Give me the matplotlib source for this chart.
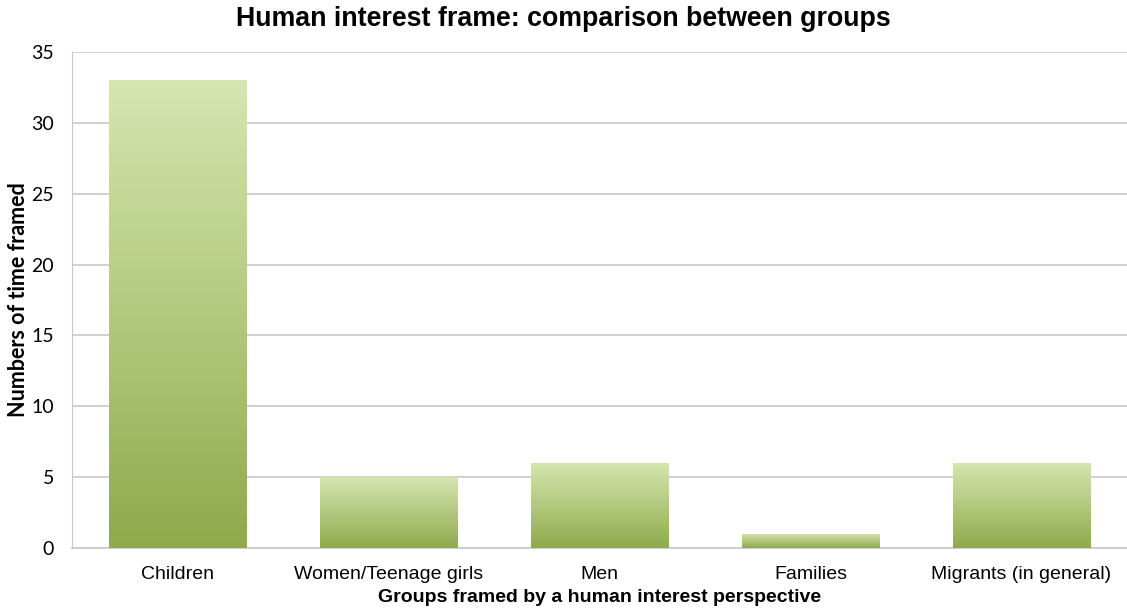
import numpy as np
import matplotlib.pyplot as plt
from matplotlib.colors import LinearSegmentedColormap

# Groups and counts
groups = ["Children", "Women/Teenage girls", "Men", "Families", "Migrants (in general)"]
counts = [33, 5, 6, 1, 6]
y_ticks = [0, 5, 10, 15, 20, 25, 30, 35]

# green gradient, dark at the bottom, light at the top
green = LinearSegmentedColormap.from_list("green", ["#8eaa4a", "#b3c97f", "#d5e6b0"])

fig = plt.figure(figsize=(11.27, 6.13), dpi=100)
ax = fig.add_axes([0.064, 0.106, 0.936, 0.809])

x = np.arange(len(groups))
bars = ax.bar(x, counts, width=0.65, color="none", zorder=3)

grad = np.linspace(0, 1, 256).reshape(-1, 1)
for b in bars:
    x0, y0 = b.get_x(), b.get_y()
    w, h = b.get_width(), b.get_height()
    im = ax.imshow(grad, cmap=green, origin="lower", aspect="auto",
                   extent=[x0, x0 + w, y0, y0 + h], zorder=3)
    im.set_clip_path(b)

ax.set_xlim(-0.5, len(groups) - 0.5)
ax.set_ylim(0, 35)
ax.set_yticks(y_ticks)
ax.yaxis.grid(True, color="#c8c8c8", linewidth=1.2, zorder=0)
ax.set_axisbelow(True)

for s in ["top", "right"]:
    ax.spines[s].set_visible(False)
ax.spines["left"].set_color("#c8c8c8")
ax.spines["bottom"].set_color("#c8c8c8")
ax.spines["bottom"].set_linewidth(1.2)
ax.tick_params(axis="both", length=0)
ax.tick_params(axis="y", pad=13)
ax.tick_params(axis="x", pad=13)

ax.set_xticks(x)
ax.set_xticklabels(groups, fontfamily="Liberation Sans", fontsize=14)
for t in ax.get_yticklabels():
    t.set_fontfamily("Lato")
    t.set_fontsize(14)

ax.set_xlabel("Groups framed by a human interest perspective", fontfamily="Liberation Sans",
              fontweight="bold", fontsize=14, labelpad=4)
ax.set_ylabel("Numbers of time framed", fontfamily="Lato", fontweight="bold",
              fontsize=15.5, labelpad=2)
fig.suptitle("Human interest frame: comparison between groups", fontfamily="Liberation Sans",
             fontweight="bold", fontsize=19.3, x=0.5, y=0.99)

fig.savefig("out.png", dpi=100)
